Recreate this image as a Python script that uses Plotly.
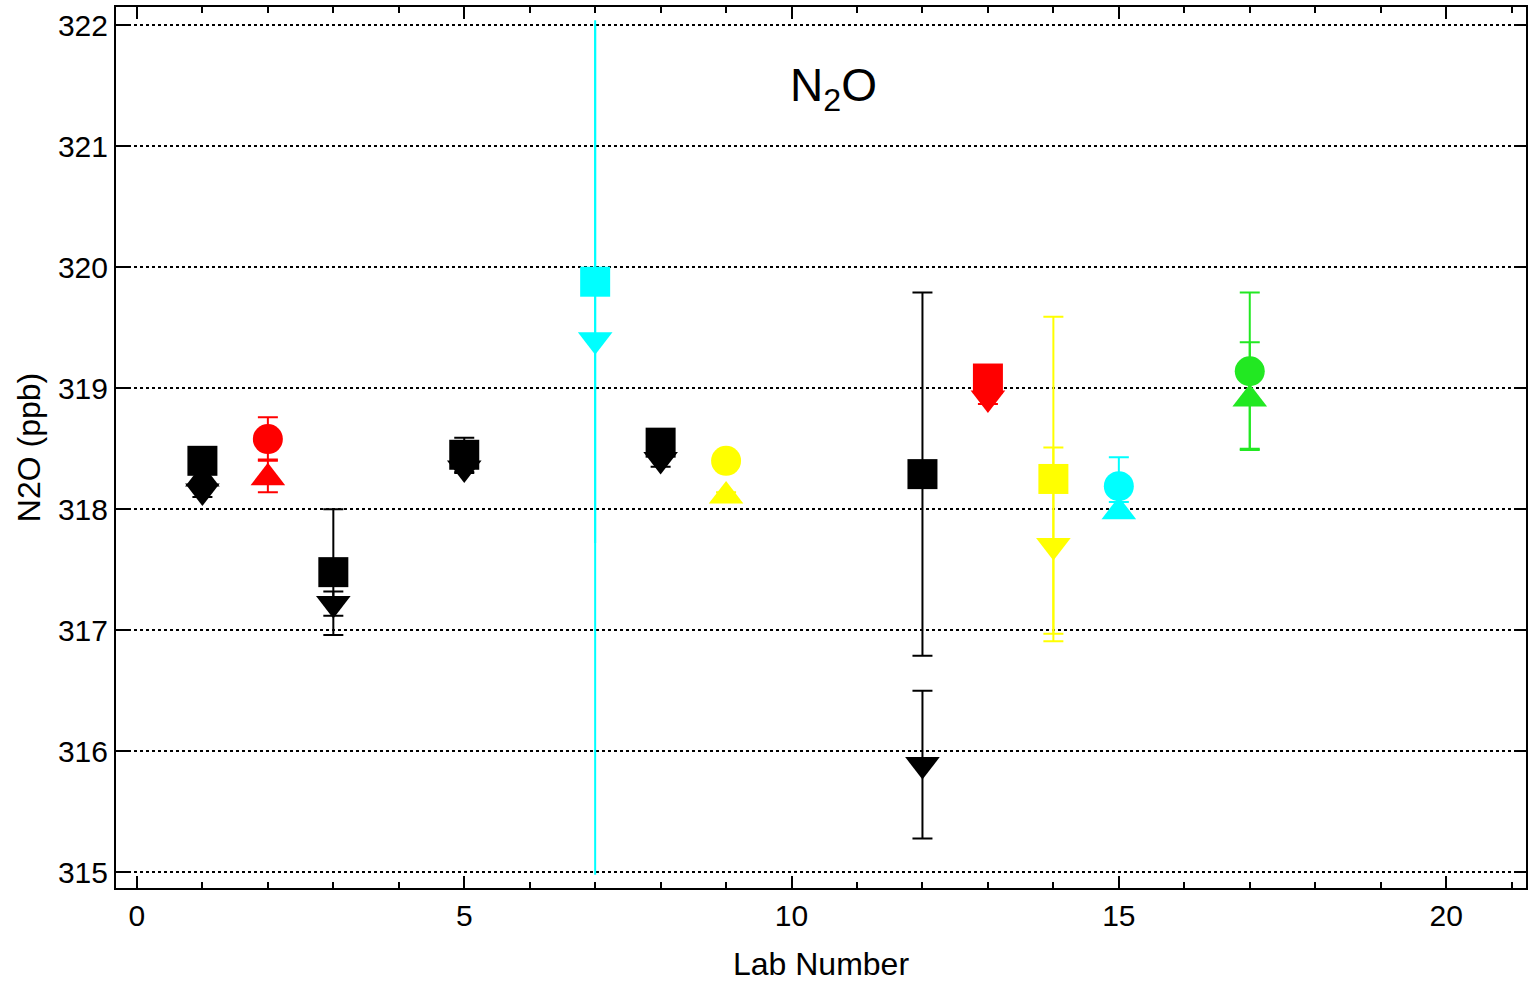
import plotly.graph_objects as go

# ---- data ----
sq_lab = [1, 3, 5, 7, 8, 12, 13, 14]
sq_val = [318.40, 317.48, 318.45, 319.88, 318.55, 318.29, 319.08, 318.25]
sq_err_p = [0.10, 0.52, 0.14, 2.16, 0.10, 1.50, 0.05, 1.34]
sq_err_m = [0.10, 0.52, 0.14, 2.16, 0.10, 1.50, 0.05, 1.34]
sq_col = ["black", "black", "black", "#00FFFF", "black", "black", "#FF0000", "#FFFF00"]

td_lab = [1, 3, 5, 7, 8, 12, 13, 14]
td_val = [318.15, 317.22, 318.34, 319.40, 318.41, 315.89, 318.92, 317.70]
td_err_p = [0.05, 0.10, 0.04, 2.60, 0.06, 0.61, 0.05, 0.81]
td_err_m = [0.05, 0.10, 0.04, 4.42, 0.06, 0.61, 0.05, 0.73]
td_col = ["black", "black", "black", "#00FFFF", "black", "black", "#FF0000", "#FFFF00"]

tu_lab = [1, 2, 9, 15, 17]
tu_val = [318.25, 318.26, 318.11, 317.98, 318.91]
tu_err_p = [0.10, 0.15, 0.03, 0.08, 0.47]
tu_err_m = [0.10, 0.12, 0.03, 0.03, 0.41]
tu_col = ["black", "#FF0000", "#FFFF00", "#00FFFF", "#22E822"]

ci_lab = [2, 9, 15, 17]
ci_val = [318.58, 318.40, 318.19, 319.14]
ci_err_p = [0.18, 0.05, 0.24, 0.65]
ci_err_m = [0.18, 0.05, 0.24, 0.65]
ci_col = ["#FF0000", "#FFFF00", "#00FFFF", "#22E822"]

x_ticks = [0, 5, 10, 15, 20]
y_ticks = [315, 316, 317, 318, 319, 320, 321, 322]

FONT = "Liberation Sans, Arial, Helvetica, sans-serif"

fig = go.Figure()


def add_series(labs, vals, ep, em, cols, symbol, size):
    for lab, v, p, m, c in zip(labs, vals, ep, em, cols):
        fig.add_trace(go.Scatter(
            x=[lab], y=[v], mode="markers",
            marker=dict(symbol=symbol, size=size, color=c, line=dict(width=0)),
            error_y=dict(type="data", symmetric=False, array=[p], arrayminus=[m],
                         color=c, thickness=2, width=10 if lab != 7 else 0),
            showlegend=False, cliponaxis=True,
        ))


add_series(td_lab, td_val, td_err_p, td_err_m, td_col, "triangle-down", 30)
add_series(tu_lab, tu_val, tu_err_p, tu_err_m, tu_col, "triangle-up", 30)
add_series(ci_lab, ci_val, ci_err_p, ci_err_m, ci_col, "circle", 30)
add_series(sq_lab, sq_val, sq_err_p, sq_err_m, sq_col, "square", 30)

fig.add_annotation(text="N<sub>2</sub>O", x=0.509, y=0.943, xref="paper", yref="paper",
                   showarrow=False, font=dict(size=46, color="black", family=FONT))

fig.update_layout(
    width=1528, height=982,
    margin=dict(l=116, r=0, t=7, b=94),
    plot_bgcolor="white", paper_bgcolor="white",
    font=dict(family=FONT, color="black", size=30),
    showlegend=False,
)
fig.update_xaxes(
    range=[-0.32, 21.22], tickvals=x_ticks, ticktext=[str(t) for t in x_ticks],
    ticks="inside", ticklen=12, tickwidth=2, tickcolor="black",
    minor=dict(dtick=1, ticks="inside", ticklen=6, tickwidth=2, tickcolor="black", showgrid=False),
    showline=True, linecolor="black", linewidth=2, mirror="allticks",
    showgrid=False, zeroline=False,
    title=dict(text="Lab Number", font=dict(size=32), standoff=24),
    tickfont=dict(size=30),
)
fig.update_yaxes(
    range=[314.87, 322.15], tickvals=y_ticks, ticktext=[str(t) for t in y_ticks],
    ticks="inside", ticklen=12, tickwidth=2, tickcolor="black",
    showline=True, linecolor="black", linewidth=2, mirror="allticks",
    showgrid=True, gridcolor="black", gridwidth=1.5, griddash="dot",
    zeroline=False,
    title=dict(text="N2O (ppb)", font=dict(size=32), standoff=8),
    tickfont=dict(size=30),
)

fig.write_html("out.html")
